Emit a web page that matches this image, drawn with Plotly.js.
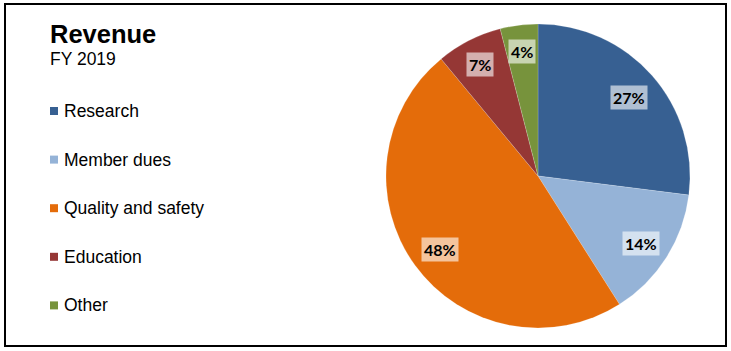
<!DOCTYPE html>
<html>
<head>
<meta charset="utf-8">
<script src="https://cdn.plot.ly/plotly-3.0.1.min.js"></script>
<style>html,body{margin:0;padding:0;background:#fff}#chart{width:731px;height:351px}</style>
</head>
<body>
<div id="chart"></div>
<script>
// ---- data ----
const categories = ["Research", "Member dues", "Quality and safety", "Education", "Other"];
const values = [27, 14, 48, 7, 4];
const colors = ["#376092", "#95B3D7", "#E46C0A", "#953735", "#77933C"];
const titleText = "Revenue";
const subtitleText = "FY 2019";

// ---- layout constants (pixels) ----
const W = 731, H = 351;
const pieLeft = 386, pieRight = 690, pieTop = 24, pieBottom = 328;
const px = x => x / W;
const py = y => 1 - y / H;

const cx = (pieLeft + pieRight) / 2, cy = (pieTop + pieBottom) / 2;
const R = Math.min(pieRight - pieLeft, pieBottom - pieTop) / 2;

const trace = {
  type: "pie",
  labels: categories,
  values: values,
  sort: false,
  direction: "clockwise",
  rotation: 0,
  marker: {colors: colors, line: {color: "rgba(255,255,255,0.35)", width: 0.5}},
  textinfo: "none",
  hoverinfo: "none",
  showlegend: false,
  domain: {x: [px(pieLeft), px(pieRight)], y: [py(pieBottom), py(pieTop)]}
};

const annotations = [];
const shapes = [];

// slice labels placed at slice mid-angle
const total = values.reduce((a, b) => a + b, 0);
let cum = 0;
values.forEach((v, i) => {
  const mid = (cum + v / 2) / total * 2 * Math.PI;
  cum += v;
  const k = v < 10 ? 0.84 : 0.8;
  const x = cx + R * k * Math.sin(mid);
  const y = cy - R * k * Math.cos(mid);
  annotations.push({
    x: px(x), y: py(y + 2), xref: "paper", yref: "paper",
    text: Math.round(v / total * 100) + "%",
    showarrow: false, xanchor: "center", yanchor: "middle",
    bgcolor: "rgba(255,255,255,0.6)", borderpad: 2,
    font: {family: "Lato, 'Liberation Sans', sans-serif", size: 16, color: "#000", weight: 700}
  });
});

// title
annotations.push({
  x: px(48), y: py(34), xref: "paper", yref: "paper", xanchor: "left", yanchor: "middle",
  text: "<b>" + titleText + "</b>", showarrow: false,
  font: {family: "'Liberation Sans', Arial, sans-serif", size: 25.5, color: "#000"}
});
annotations.push({
  x: px(48), y: py(59), xref: "paper", yref: "paper", xanchor: "left", yanchor: "middle",
  text: subtitleText, showarrow: false,
  font: {family: "'Liberation Sans', Arial, sans-serif", size: 17.5, color: "#000"}
});

// legend
const legTop = 111, legStep = 48.6;
categories.forEach((c, i) => {
  const yc = legTop + i * legStep;
  shapes.push({
    type: "rect", xref: "paper", yref: "paper",
    x0: px(50), x1: px(58), y0: py(yc - 4), y1: py(yc + 4),
    fillcolor: colors[i], line: {width: 0}
  });
  annotations.push({
    x: px(62), y: py(yc), xref: "paper", yref: "paper", xanchor: "left", yanchor: "middle",
    text: c, showarrow: false,
    font: {family: "'Liberation Sans', Arial, sans-serif", size: 17.5, color: "#000"}
  });
});

// chart border
shapes.push({
  type: "rect", xref: "paper", yref: "paper",
  x0: px(5), x1: px(726), y0: py(346), y1: py(4),
  line: {color: "#000", width: 2}, fillcolor: "rgba(0,0,0,0)"
});

const layout = {
  width: W, height: H,
  margin: {l: 0, r: 0, t: 0, b: 0},
  paper_bgcolor: "#fff",
  showlegend: false,
  annotations: annotations,
  shapes: shapes
};

Plotly.newPlot("chart", [trace], layout, {displayModeBar: false, staticPlot: true});
</script>
</body>
</html>
